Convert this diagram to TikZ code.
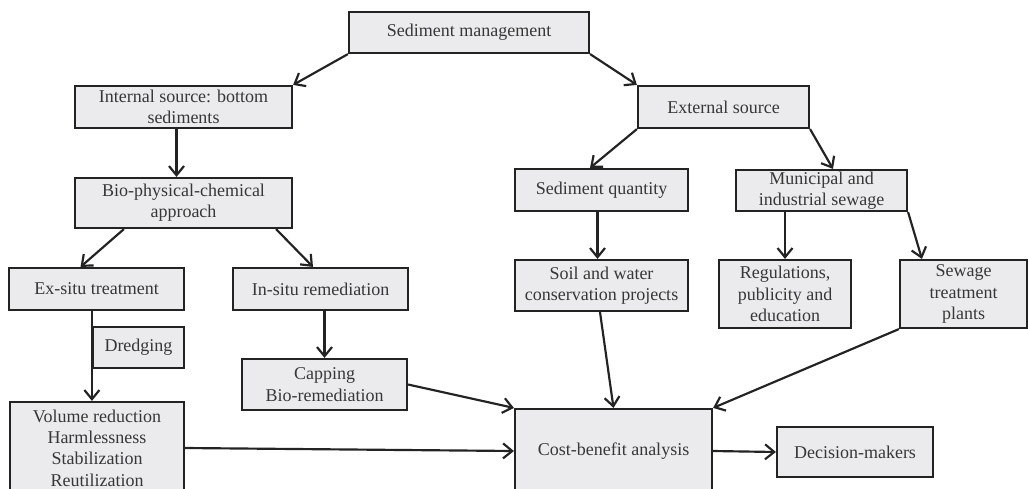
\documentclass[tikz,border=0pt]{standalone}
\usepackage{fontspec}
\setmainfont{Liberation Serif}
\usetikzlibrary{calc,positioning,arrows.meta}
\definecolor{boxfill}{RGB}{235,235,238}
\definecolor{boxtext}{RGB}{55,55,55}
\definecolor{boxline}{RGB}{35,35,35}
\tikzset{
    flowbox/.style 2 args={ % width and height in pixels of the reference
        draw=boxline,
        rectangle,
        align=center,
        inner sep=0pt,
        minimum width=#1*0.6pt,
        minimum height=#2*0.6pt,
        fill=boxfill,
        text=boxtext,
        font=\fontsize{10.8}{12.8}\selectfont
    },
    flowarrow/.style={
        draw=boxline,
        -{Straight Barb[length=5.5pt,width=9pt,line width=1.3pt]}
    }
}

\begin{document}
\begin{tikzpicture}[x=0.6pt,y=-0.6pt,line width=1.3pt]
        \useasboundingbox (0,0) rectangle (1028,488);

        \node[flowbox={240}{41}] (SM) at (469,32.5) {Sediment management};
        \node[flowbox={217}{42}] (Int) at (183.5,107) {Internal source: bottom\\sediments};
        \node[flowbox={171}{42}] (Ext) at (723.5,107) {External source};
        \node[flowbox={217}{50}] (Bio) at (183.5,203) {Bio-physical-chemical\\approach};
        \node[flowbox={173}{42}] (SQ) at (601.5,190) {Sediment quantity};
        \node[flowbox={171}{41}] (Mun) at (821.5,190.5) {Municipal and\\industrial sewage};
        \node[flowbox={175}{42}] (Ex) at (96.5,289) {Ex-situ treatment};
        \node[flowbox={175}{42}] (In) at (320.5,289) {In-situ remediation};
        \node[flowbox={173}{51}] (Soil) at (601.5,285.5) {Soil and water\\conservation projects};
        \node[flowbox={132}{68}] (Reg) at (785,294) {Regulations,\\publicity and\\education};
        \node[flowbox={127}{68}] (Sew) at (963.5,294) {Sewage\\treatment\\plants};
        \node[flowbox={91}{41}] (Dredge) at (138.5,347.5) {Dredging};
        \node[flowbox={165}{51}] (Cap) at (324.5,384.5) {Capping\\Bio-remediation};
        \node[flowbox={174}{92}] (Vol) at (97,448) {Volume reduction\\Harmlessness\\Stabilization\\Reutilization};
        \node[flowbox={197}{84}] (CB) at (613.5,451) {Cost-benefit analysis};
        \node[flowbox={156}{50}] (DM) at (855,452) {Decision-makers};

        \draw[flowarrow] (SM.south west) -- (Int.north east);
        \draw[flowarrow] (SM.south east) -- (Ext.north west);
        \draw[flowarrow] ($(Int.south)+(-7,0)$) -- ($(Bio.north)+(-7,0)$);
        \draw[flowarrow] ($(Bio.south west)+(50,0)$) -- ($(Ex.north)+(-16,0)$);
        \draw[flowarrow] ($(Bio.south east)+(-17,0)$) -- ($(In.north)+(-7.5,0)$);
        \draw[flowarrow] (Ex.south -| Dredge.west) -- (Vol.north -| Dredge.west);
        \draw[flowarrow] (In.south -| Cap.north) -- (Cap.north);
        \draw[flowarrow] (Cap.east) -- (CB.north west);
        \draw[flowarrow] (Vol.east) -- (CB.west);
        \draw[flowarrow] (CB.east) -- (DM.west);

        \draw[flowarrow] (Ext.south west) -- ($(SQ.north)+(-11.5,0)$);
        \draw[flowarrow] (Ext.south east) -- ($(Mun.north)+(11.5,0)$);
        \draw[flowarrow] ($(SQ.south)+(-4,0)$) -- ($(Soil.north)+(-4,0)$);
        \draw[flowarrow] (Reg.north |- Mun.south) -- (Reg.north);
        \draw[flowarrow] (Mun.south east) -- ($(Sew.north west)+(23,0)$);
        \draw[flowarrow] ($(Soil.south)+(-1.5,0)$) -- (CB.north);
        \draw[flowarrow] (Sew.south west) -- (CB.north east);
    \end{tikzpicture}
\end{document}
